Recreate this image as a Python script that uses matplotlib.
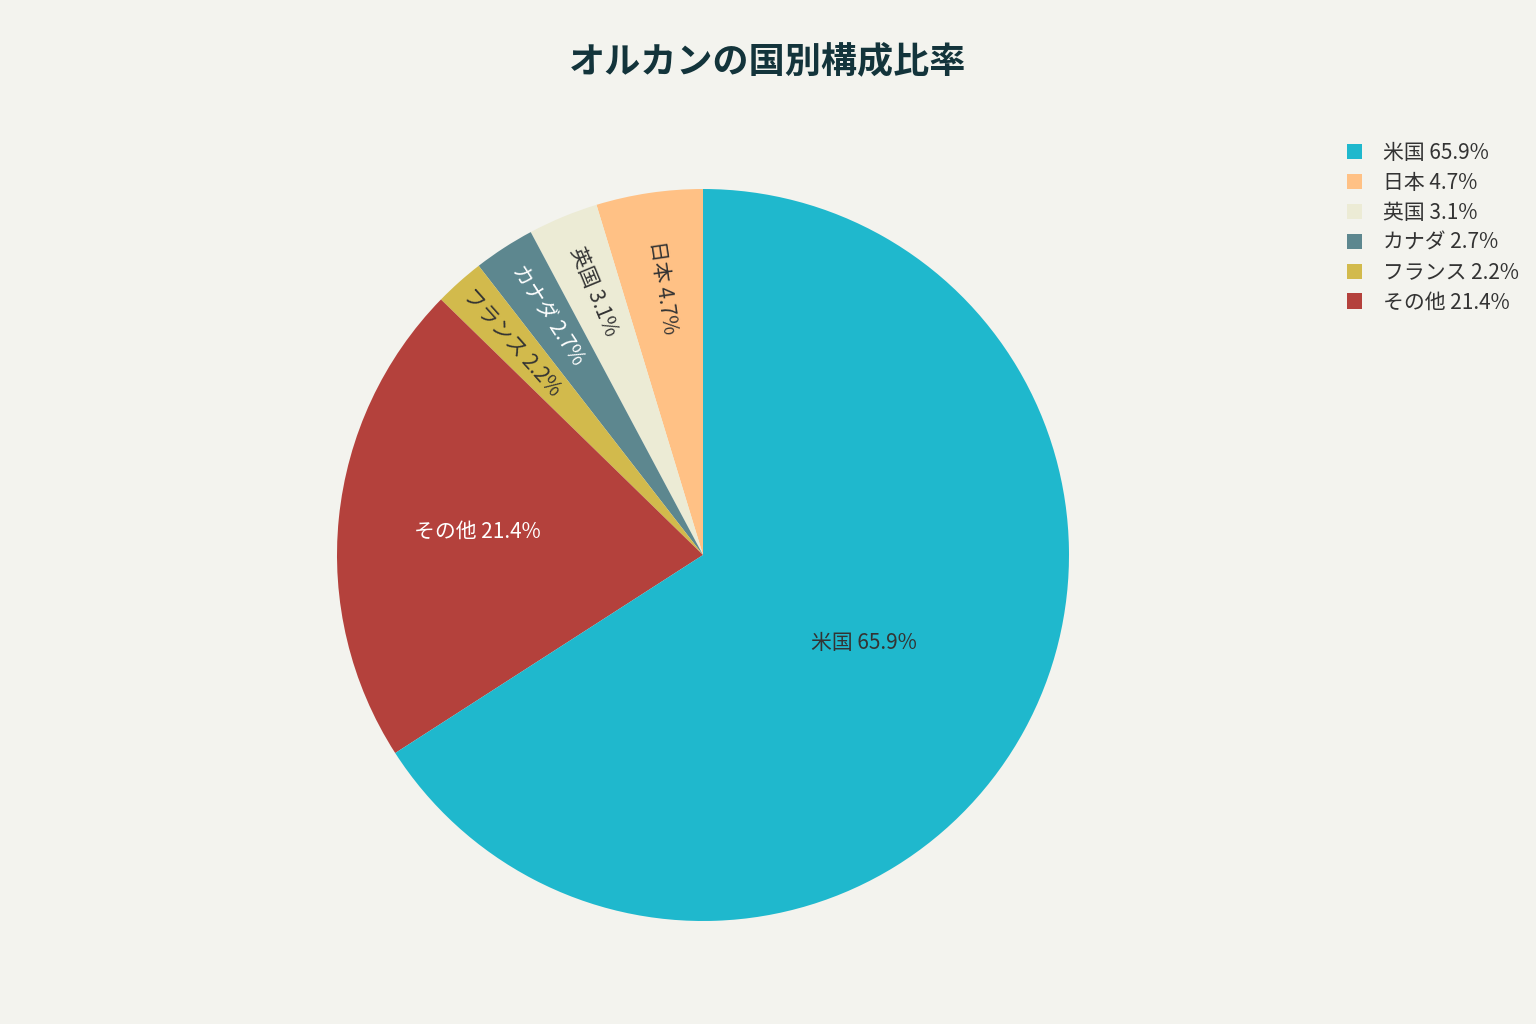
import matplotlib
matplotlib.use("Agg")
import matplotlib.pyplot as plt
from matplotlib.patches import Patch
import numpy as np

plt.rcParams['font.family'] = ['Noto Sans CJK JP', 'DejaVu Sans']

# data in legend order
countries = ['米国', '日本', '英国', 'カナダ', 'フランス', 'その他']
shares = [65.9, 4.7, 3.1, 2.7, 2.2, 21.4]
colors = ['#1FB8CD', '#FFC185', '#ECEBD5', '#5D878F', '#D2BA4C', '#B4413C']
text_colors = ['#333333', '#333333', '#333333', '#ffffff', '#333333', '#ffffff']

# drawing order: counter-clockwise from 12 o'clock
draw_order = [1, 2, 3, 4, 5, 0]

bg = '#F3F3EE'
W, H = 1536, 1024
fig = plt.figure(figsize=(W / 100, H / 100), dpi=100, facecolor=bg)

cx, cy, r = 703, 555, 366
ax = fig.add_axes([(cx - r) / W, (H - cy - r) / H, 2 * r / W, 2 * r / H])
ax.set_facecolor(bg)

vals = [shares[i] for i in draw_order]
cols = [colors[i] for i in draw_order]
wedges, _ = ax.pie(vals, colors=cols, startangle=90, counterclock=True,
                   radius=1, wedgeprops=dict(linewidth=0))
ax.set_xlim(-1, 1)
ax.set_ylim(-1, 1)
ax.set_aspect('equal')
ax.axis('off')

# slice labels
for w, i in zip(wedges, draw_order):
    mid = np.deg2rad((w.theta1 + w.theta2) / 2)
    label = f'{countries[i]} {shares[i]}%'
    if shares[i] > 10:
        rr = 0.5 if shares[i] > 50 else 0.62
        ax.text(rr * np.cos(mid), rr * np.sin(mid), label, ha='center', va='center',
                fontsize=15, color=text_colors[i])
    else:
        rr = 0.74 if shares[i] > 4 else 0.78
        rot = np.rad2deg(mid) - 180
        ax.text(rr * np.cos(mid), rr * np.sin(mid), label, ha='center', va='center',
                fontsize=15, color=text_colors[i], rotation=rot,
                rotation_mode='anchor')

fig.text(0.5, 1 - 62 / H, 'オルカンの国別構成比率', ha='center', va='center',
         fontsize=26, fontweight='bold', color='#13343B')

handles = [Patch(facecolor=c, edgecolor='none') for c in colors]
labels = [f'{c} {s}%' for c, s in zip(countries, shares)]
fig.legend(handles, labels, loc='upper left', bbox_to_anchor=(1328 / W, 1 - 123 / H),
           frameon=False, fontsize=15, handlelength=0.75, handleheight=0.75,
           handletextpad=1.0, labelspacing=0.38, labelcolor='#333333')

fig.savefig('out.png', dpi=100, facecolor=bg)
